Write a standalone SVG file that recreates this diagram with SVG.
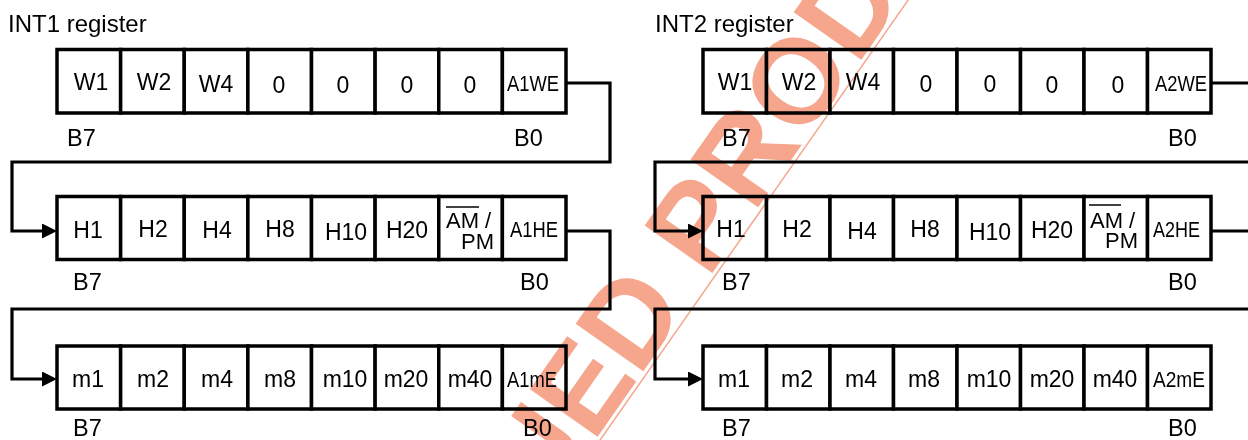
<svg xmlns="http://www.w3.org/2000/svg" width="1248" height="440" viewBox="0 0 1248 440">
<style>
text{font-family:"Liberation Sans",Arial,sans-serif;fill:#000}
.t{font-size:23px;text-anchor:middle}
.lb{font-size:23.5px}
.n{font-size:22px}
.ap{font-size:22px}
.ttl{font-size:24px}
.cell{fill:#fff;stroke:#000;stroke-width:3.5}
.con{fill:none;stroke:#000;stroke-width:3.2;stroke-linejoin:miter}
.ovl{stroke:#000;stroke-width:1.5}
.wm{font-family:"Liberation Sans",Arial,sans-serif;font-weight:bold;font-size:120px;fill:#F5A68C}
</style>
<defs>
<marker id="ah" markerUnits="userSpaceOnUse" markerWidth="15" markerHeight="15" refX="3" refY="7.5" orient="auto">
<path d="M0,0 L15,7.5 L0,15 z" fill="#000"/>
</marker>
</defs>
<rect width="1248" height="440" fill="#fff"/>

<g id="connectors">
<path class="con" d="M566,83 H610 V162 H12 V231 H45" marker-end="url(#ah)"/>
<path class="con" d="M566,231 H610 V309 H12 V379 H45" marker-end="url(#ah)"/>
<path class="con" d="M1211,83 H1252"/>
<path class="con" d="M1252,162 H655 V231 H691" marker-end="url(#ah)"/>
<path class="con" d="M1211,231 H1252"/>
<path class="con" d="M1252,309 H655 V379 H691" marker-end="url(#ah)"/>
</g>

<g id="int1-title"><text class="ttl" x="8" y="32">INT1 register</text></g>
<g id="int2-title"><text class="ttl" x="655" y="32">INT2 register</text></g>

<g id="int1-week">
<rect class="cell" x="57" y="49.5" width="63.625" height="63.5"/>
<rect class="cell" x="120.625" y="49.5" width="63.625" height="63.5"/>
<rect class="cell" x="184.25" y="49.5" width="63.625" height="63.5"/>
<rect class="cell" x="247.875" y="49.5" width="63.625" height="63.5"/>
<rect class="cell" x="311.5" y="49.5" width="63.625" height="63.5"/>
<rect class="cell" x="375.125" y="49.5" width="63.625" height="63.5"/>
<rect class="cell" x="438.75" y="49.5" width="63.625" height="63.5"/>
<rect class="cell" x="502.375" y="49.5" width="63.625" height="63.5"/>
<text class="t" x="91" y="90">W1</text>
<text class="t" x="154" y="90">W2</text>
<text class="t" x="216" y="92">W4</text>
<text class="t" x="279" y="93">0</text>
<text class="t" x="343" y="93">0</text>
<text class="t" x="407" y="93">0</text>
<text class="t" x="470" y="93">0</text>
<text class="n" x="507" y="91" textLength="52" lengthAdjust="spacingAndGlyphs">A1WE</text>
<text class="lb" x="67" y="146">B7</text>
<text class="lb" x="514" y="146">B0</text>
</g>

<g id="int1-hour">
<rect class="cell" x="57" y="196.5" width="63.625" height="63"/>
<rect class="cell" x="120.625" y="196.5" width="63.625" height="63"/>
<rect class="cell" x="184.25" y="196.5" width="63.625" height="63"/>
<rect class="cell" x="247.875" y="196.5" width="63.625" height="63"/>
<rect class="cell" x="311.5" y="196.5" width="63.625" height="63"/>
<rect class="cell" x="375.125" y="196.5" width="63.625" height="63"/>
<rect class="cell" x="438.75" y="196.5" width="63.625" height="63"/>
<rect class="cell" x="502.375" y="196.5" width="63.625" height="63"/>
<text class="t" x="88" y="238">H1</text>
<text class="t" x="153" y="237">H2</text>
<text class="t" x="217" y="238">H4</text>
<text class="t" x="280" y="237">H8</text>
<text class="t" x="346" y="240">H10</text>
<text class="t" x="407" y="238">H20</text>
<text class="ap" x="446" y="228">AM /</text>
<line class="ovl" x1="446" y1="207" x2="479" y2="207"/>
<text class="ap" x="494" y="249" text-anchor="end">PM</text>
<text class="n" x="510" y="237" textLength="48" lengthAdjust="spacingAndGlyphs">A1HE</text>
<text class="lb" x="73" y="290">B7</text>
<text class="lb" x="520" y="290">B0</text>
</g>

<g id="int1-minute">
<rect class="cell" x="57" y="346" width="63.625" height="63"/>
<rect class="cell" x="120.625" y="346" width="63.625" height="63"/>
<rect class="cell" x="184.25" y="346" width="63.625" height="63"/>
<rect class="cell" x="247.875" y="346" width="63.625" height="63"/>
<rect class="cell" x="311.5" y="346" width="63.625" height="63"/>
<rect class="cell" x="375.125" y="346" width="63.625" height="63"/>
<rect class="cell" x="438.75" y="346" width="63.625" height="63"/>
<rect class="cell" x="502.375" y="346" width="63.625" height="63"/>
<text class="t" x="88" y="387">m1</text>
<text class="t" x="153" y="387">m2</text>
<text class="t" x="217" y="387">m4</text>
<text class="t" x="280" y="387">m8</text>
<text class="t" x="345" y="387">m10</text>
<text class="t" x="406" y="387">m20</text>
<text class="t" x="470" y="387">m40</text>
<text class="n" x="507" y="387" textLength="50" lengthAdjust="spacingAndGlyphs">A1mE</text>
<text class="lb" x="73" y="436">B7</text>
<text class="lb" x="523" y="436">B0</text>
</g>

<g id="int2-week">
<rect class="cell" x="703" y="49.5" width="63.5" height="63.5"/>
<rect class="cell" x="766.5" y="49.5" width="63.5" height="63.5"/>
<rect class="cell" x="830" y="49.5" width="63.5" height="63.5"/>
<rect class="cell" x="893.5" y="49.5" width="63.5" height="63.5"/>
<rect class="cell" x="957" y="49.5" width="63.5" height="63.5"/>
<rect class="cell" x="1020.5" y="49.5" width="63.5" height="63.5"/>
<rect class="cell" x="1084" y="49.5" width="63.5" height="63.5"/>
<rect class="cell" x="1147.5" y="49.5" width="63.5" height="63.5"/>
<text class="t" x="735" y="90">W1</text>
<text class="t" x="799" y="90">W2</text>
<text class="t" x="863" y="90">W4</text>
<text class="t" x="926" y="92">0</text>
<text class="t" x="990" y="92">0</text>
<text class="t" x="1052" y="93">0</text>
<text class="t" x="1118" y="93">0</text>
<text class="n" x="1155" y="91" textLength="52" lengthAdjust="spacingAndGlyphs">A2WE</text>
<text class="lb" x="722" y="146">B7</text>
<text class="lb" x="1168" y="146">B0</text>
</g>

<g id="int2-hour">
<rect class="cell" x="703" y="196.5" width="63.5" height="63"/>
<rect class="cell" x="766.5" y="196.5" width="63.5" height="63"/>
<rect class="cell" x="830" y="196.5" width="63.5" height="63"/>
<rect class="cell" x="893.5" y="196.5" width="63.5" height="63"/>
<rect class="cell" x="957" y="196.5" width="63.5" height="63"/>
<rect class="cell" x="1020.5" y="196.5" width="63.5" height="63"/>
<rect class="cell" x="1084" y="196.5" width="63.5" height="63"/>
<rect class="cell" x="1147.5" y="196.5" width="63.5" height="63"/>
<text class="t" x="731" y="237">H1</text>
<text class="t" x="797" y="237">H2</text>
<text class="t" x="862" y="239">H4</text>
<text class="t" x="925" y="237">H8</text>
<text class="t" x="990" y="240">H10</text>
<text class="t" x="1052" y="238">H20</text>
<text class="ap" x="1090" y="228">AM /</text>
<line class="ovl" x1="1089" y1="205" x2="1121" y2="205"/>
<text class="ap" x="1138" y="248" text-anchor="end">PM</text>
<text class="n" x="1153" y="237" textLength="47" lengthAdjust="spacingAndGlyphs">A2HE</text>
<text class="lb" x="722" y="290">B7</text>
<text class="lb" x="1168" y="290">B0</text>
</g>

<g id="int2-minute">
<rect class="cell" x="703" y="346" width="63.5" height="63"/>
<rect class="cell" x="766.5" y="346" width="63.5" height="63"/>
<rect class="cell" x="830" y="346" width="63.5" height="63"/>
<rect class="cell" x="893.5" y="346" width="63.5" height="63"/>
<rect class="cell" x="957" y="346" width="63.5" height="63"/>
<rect class="cell" x="1020.5" y="346" width="63.5" height="63"/>
<rect class="cell" x="1084" y="346" width="63.5" height="63"/>
<rect class="cell" x="1147.5" y="346" width="63.5" height="63"/>
<text class="t" x="734" y="387">m1</text>
<text class="t" x="797" y="387">m2</text>
<text class="t" x="861" y="387">m4</text>
<text class="t" x="924" y="387">m8</text>
<text class="t" x="989" y="387">m10</text>
<text class="t" x="1052" y="387">m20</text>
<text class="t" x="1115" y="387">m40</text>
<text class="n" x="1153" y="387" textLength="52" lengthAdjust="spacingAndGlyphs">A2mE</text>
<text class="lb" x="722" y="436">B7</text>
<text class="lb" x="1168" y="436">B0</text>
</g>

<g id="watermark" style="mix-blend-mode:multiply" transform="translate(640,383) rotate(-55)">
<text class="wm" x="-823" y="-4">DISCONTINUED PRODUCT</text>
<line x1="-700" y1="0" x2="700" y2="0" stroke="#F5A68C" stroke-width="1.5"/>
</g>
</svg>
